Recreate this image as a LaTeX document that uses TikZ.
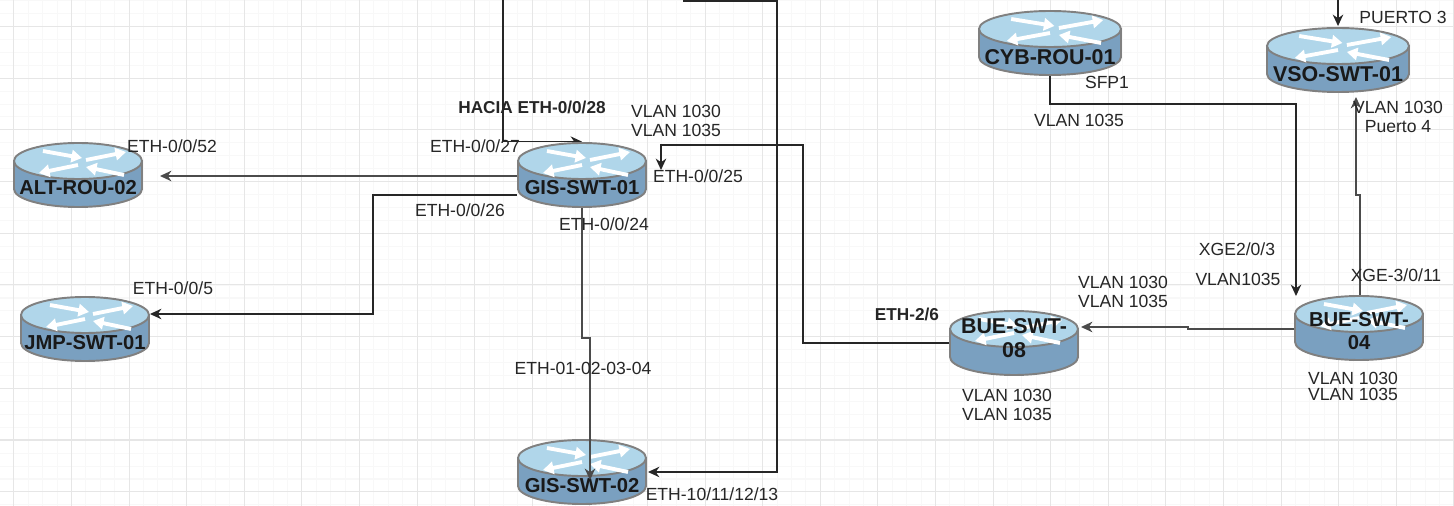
\documentclass[tikz,border=0pt]{standalone}
\usepackage{fontspec}
\setmainfont{Liberation Sans}
\usetikzlibrary{backgrounds,arrows.meta}
\definecolor{routertop}{RGB}{176,214,234}
\definecolor{routerside}{RGB}{122,160,192}
\definecolor{routeredge}{RGB}{128,128,128}
\definecolor{linkgray}{RGB}{75,75,75}
\definecolor{gridmajor}{RGB}{230,230,230}
\definecolor{gridminor}{RGB}{248,248,248}
\newcommand{\routerx}{64}

\begin{document}
\begin{tikzpicture}[
        x=0.02cm, y=-0.02cm,
        router/.style={rectangle, inner sep=0pt, minimum width=2.6cm, minimum height=1.32cm,
          path picture={
            \begin{scope}[shift={(path picture bounding box.center)}]
              \draw[routeredge, line width=1.1pt, fill=routerside] (-\routerx,-14) -- (-\routerx,14)
                arc[start angle=180, end angle=0, x radius=\routerx, y radius=18] -- (\routerx,-14) -- cycle;
              \draw[routeredge, line width=1.1pt, fill=routertop] (0,-14) ellipse[x radius=\routerx, y radius=18];
              \foreach \xa/\ya/\xb/\yb in {-35/-24/4/-17, 8/-15/48/-23, 0/-10/-39/-2, 46/0/8/-8} {
                \draw[white, line width=2.2pt, -{Triangle[length=6pt, width=7pt]}]
                  ({\xa*\routerx/64},\ya) -- ({\xb*\routerx/64},\yb);
              }
            \end{scope}
          }},
        widerouter/.style={router, minimum width=2.9cm, /utils/exec={\def\routerx{71}}},
        routertext/.style={font=\bfseries\fontsize{11.5}{13.4}\selectfont, align=center, inner sep=0pt, text=black!90},
        bigname/.style={routertext, font=\bfseries\fontsize{12.2}{13.4}\selectfont},
        lbl/.style={font=\fontsize{10}{10.8}\selectfont, align=center, inner sep=0pt, text=black!85},
        boldlbl/.style={lbl, font=\bfseries\fontsize{9.8}{10.8}\selectfont},
        link/.style={draw=black!85, line width=0.7pt, -{Stealth[length=6.5pt, width=6pt]}},
        graylink/.style={link, draw=linkgray, line width=1pt}
      ]

      % Page and grid
      \useasboundingbox (0,0) rectangle (1454,506);
      \begin{pgfonlayer}{background}
        \fill[white] (0,0) rectangle (1454,506);
        \foreach \i in {0,...,101} \draw[gridminor, line width=0.6pt] ({-0.5+14.4*\i},0) -- ++(0,506);
        \foreach \i in {0,...,39} \draw[gridminor, line width=0.6pt] (0,{0.6+12.93*\i}) -- ++(1454,0);
        \foreach \i in {0,...,25} \draw[gridmajor, line width=0.6pt] ({13.9+57.6*\i},0) -- ++(0,506);
        \foreach \i in {0,...,9} \draw[gridmajor, line width=0.6pt] (0,{26.4+51.7*\i}) -- ++(1454,0);
      \end{pgfonlayer}

      % Free ends at the top of the page
      \coordinate (topA) at (503,0);
      \coordinate (topB) at (683,1);
      \coordinate (topC) at (1338,0);

      % Routers
      \node[router] (ALT) at (78,175) {};
      \node[router] (GIS1) at (582,175) {};
      \node[router] (JMP) at (85,329) {};
      \node[router] (GIS2) at (582,472) {};
      \node[router] (BUE8) at (1014,343) {};
      \node[router] (BUE4) at (1359,328) {};
      \node[widerouter] (CYB) at (1050,43) {};
      \node[widerouter] (VSO) at (1338,60) {};

      % Router names
      \node[routertext] (ALTname) at (78,188) {ALT-ROU-02};
      \node[routertext] (GIS1name) at (582,188) {GIS-SWT-01};
      \node[routertext] (JMPname) at (85,343) {JMP-SWT-01};
      \node[routertext] (GIS2name) at (582,486) {GIS-SWT-02};
      \node[bigname] (BUE8name) at (1014,338) {BUE-SWT-\\08};
      \node[routertext] (BUE4name) at (1359,331) {BUE-SWT-\\04};
      \node[bigname] (CYBname) at (1050,57) {CYB-ROU-01};
      \node[bigname] (VSOname) at (1338,74) {VSO-SWT-01};

      % Hidden tip goes under GIS-SWT-01
      \begin{pgfonlayer}{background}
        \draw[link] (topA) |- (GIS1.north);
      \end{pgfonlayer}

      % Connections
      \draw[graylink] (GIS1.west |- 0,176) -- (160,176);
      \draw[link] (GIS1.west |- 0,195) -| (373,314) -- (150,314);
      \draw[graylink] (GIS1.south) -- (582,338) -- (590,338) -- (590,480);
      \draw[link] (topB) -| (777,472) -- (648,472);
      \draw[link] (BUE8.west) -| (803,145) -| (661,170);
      \draw[graylink] (BUE4.west |- 0,329) -- (1188,329) -- (1188,327) -- (1081,327);
      \draw[link] (CYB.south) |- (1296,104) -- (1296,296);
      \draw[graylink] (BUE4.north -| 1360,0) -- (1360,195) -- (1356,195) -- (1356,97);
      \draw[link] (topC) -- (1338,26);

      % Port labels
      \node[lbl] (l1) at (172,146) {ETH-0/0/52};
      \node[boldlbl] (l2) at (532,107) {HACIA ETH-0/0/28};
      \node[lbl] (l3) at (676,120.5) {VLAN 1030\\VLAN 1035};
      \node[lbl] (l4) at (475,146) {ETH-0/0/27};
      \node[lbl] (l5) at (698,176) {ETH-0/0/25};
      \node[lbl] (l6) at (460,210) {ETH-0/0/26};
      \node[lbl] (l7) at (604,224) {ETH-0/0/24};
      \node[lbl] (l8) at (173,288) {ETH-0/0/5};
      \node[lbl] (l9) at (583,368) {ETH-01-02-03-04};
      \node[lbl] (l10) at (712,494) {ETH-10/11/12/13};
      \node[boldlbl] (l11) at (907,314) {ETH-2/6};
      \node[lbl] (l12) at (1123,291.5) {VLAN 1030\\VLAN 1035};
      \node[lbl] (l13) at (1007,405) {VLAN 1030\\VLAN 1035};
      \node[lbl] (l14) at (1107,82) {SFP1};
      \node[lbl] (l15) at (1079,120) {VLAN 1035};
      \node[lbl] (l16) at (1237,249) {XGE2/0/3};
      \node[lbl] (l17) at (1238,279) {VLAN1035};
      \node[lbl] (l18) at (1396,275) {XGE-3/0/11};
      \node[lbl] (l19) at (1403,17) {PUERTO 3};
      \node[lbl] (l20) at (1398,117) {VLAN 1030\\Puerto 4};
      \node[lbl] (l21) at (1353,386.5) {VLAN 1030\\[-1.5pt]VLAN 1035};

    \end{tikzpicture}
\end{document}
